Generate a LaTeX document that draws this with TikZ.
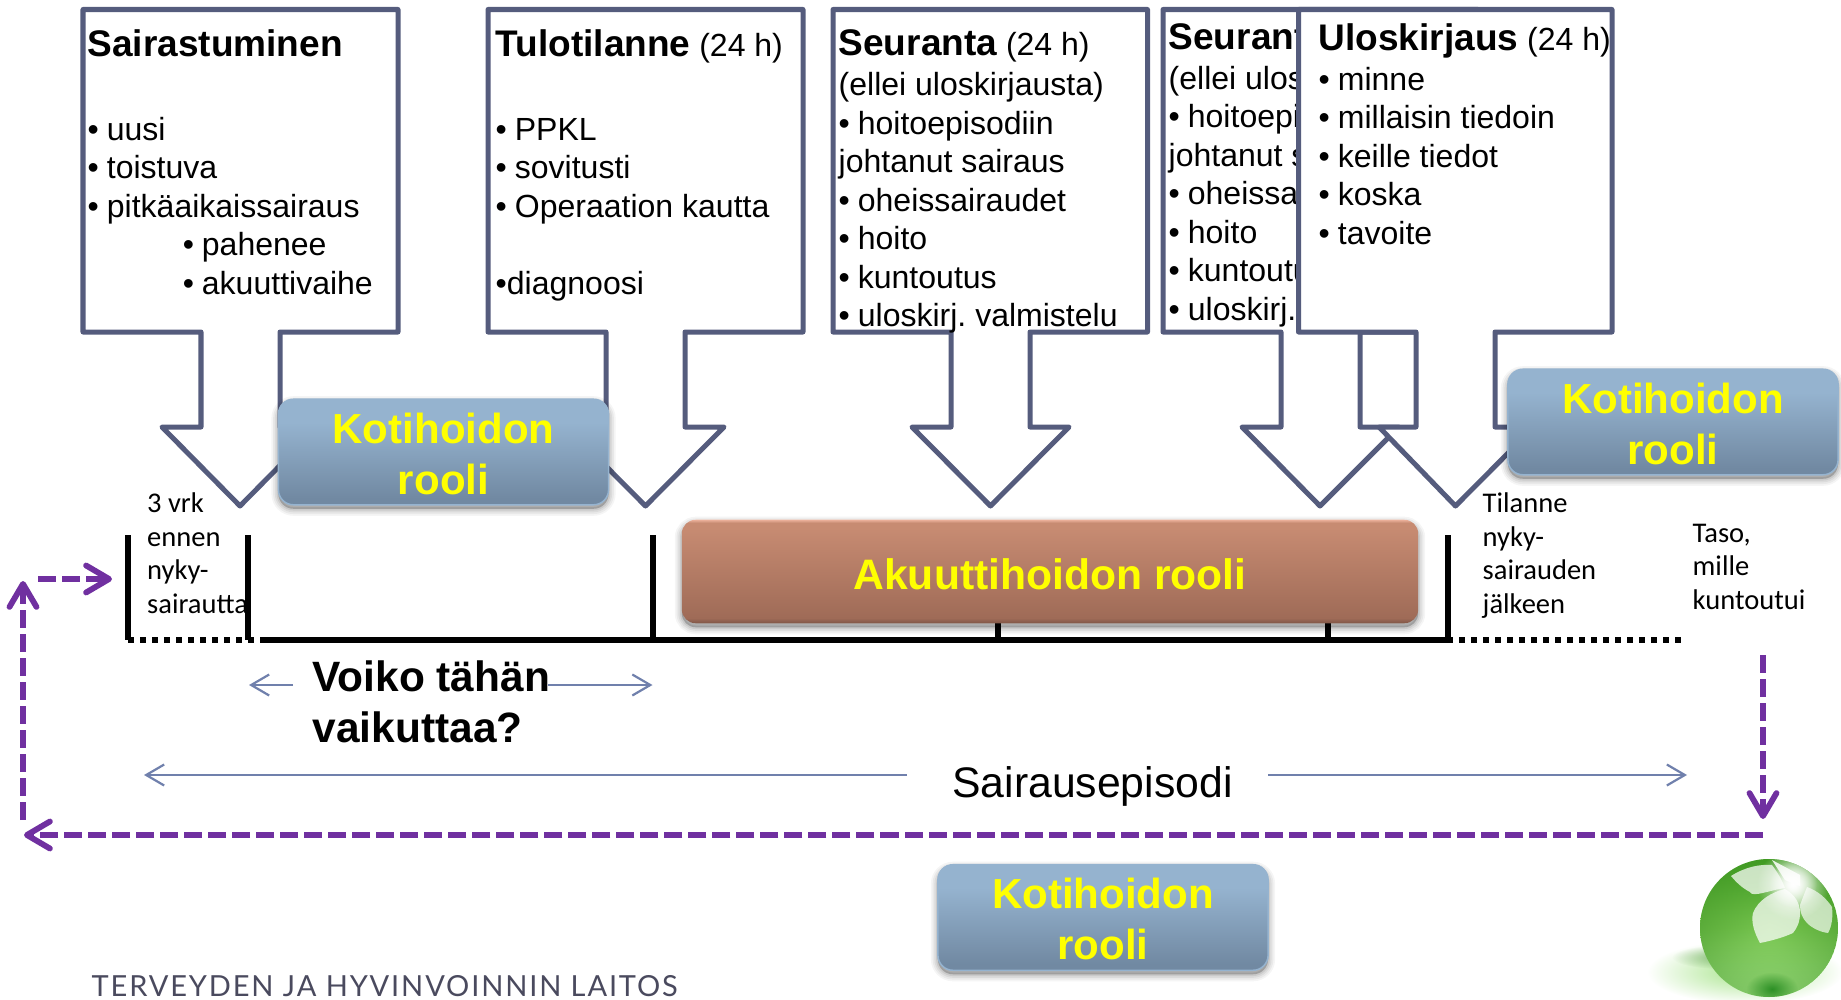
\documentclass[tikz,border=0pt]{standalone}
\usepackage{fontspec}
\setmainfont{Liberation Sans}
\newfontfamily\calib{Carlito}
\newfontfamily\thlfont[LetterSpace=6.4]{Lato}
\usetikzlibrary{arrows.meta,fadings,shadings}
\definecolor{calloutline}{HTML}{555C7D}
\definecolor{purp}{HTML}{7030A0}
\definecolor{thinblue}{HTML}{7080AC}
\definecolor{kyel}{HTML}{FFFF00}
\definecolor{kk1}{HTML}{95B3CF}
\definecolor{kk2}{HTML}{7189A2}
\definecolor{kk3}{HTML}{7189A2}
\definecolor{aa0}{HTML}{EDB29C}
\definecolor{aa1}{HTML}{C78B72}
\definecolor{aa2}{HTML}{9F6B57}
\definecolor{aa3}{HTML}{7F5646}
\definecolor{ftr}{HTML}{4A4A5E}
\definecolor{gTop}{HTML}{4CA82A}
\definecolor{gMid}{HTML}{78C650}
\definecolor{gBot}{HTML}{B4F096}
\definecolor{gRim}{HTML}{2F8418}
\definecolor{gSpot}{HTML}{238A1E}
\definecolor{gShad}{HTML}{A8E48C}
\pgfdeclareverticalshading{kotishade}{100bp}{color(0bp)=(kk3);color(25bp)=(kk3);color(28bp)=(kk2);color(64bp)=(kk1);color(75bp)=(kk1);color(100bp)=(kk1)}
\pgfdeclareverticalshading{akushade}{100bp}{color(0bp)=(aa3);color(25bp)=(aa3);color(27.5bp)=(aa2);color(71bp)=(aa1);color(73.5bp)=(aa1);color(75bp)=(aa0);color(100bp)=(aa0)}
\tikzfading[name=rimfade,inner color=transparent!100,outer color=transparent!62]
\tikzfading[name=glowfade,inner color=transparent!0,outer color=transparent!100]
\newcommand\ttl[1]{{\fontsize{3.7mm}{3.85mm}\selectfont\bfseries #1}}
\newcommand\bl[1]{\makebox[1.92mm][l]{•}#1}
\newcommand\bli[1]{\hspace*{9.5mm}\makebox[1.92mm][l]{•}#1}
\newcommand\kotirole{\rule{0pt}{3.4mm}Kotihoidon\\rooli}
% L R stemL stemR headL headR tipx
\newcommand\callout[7]{\draw[calloutpath] (#1,9.5) -- (#2,9.5) -- (#2,332) -- (#4,332) -- (#4,427) -- (#6,427) -- (#7,506) -- (#5,427) -- (#3,427) -- (#3,332) -- (#1,332) -- cycle;}
\tikzset{
 calloutpath/.style={draw=calloutline,fill=white,line width=.5mm,line join=round},
 bodytext/.style={anchor=north west,inner sep=0pt,align=left,font=\fontsize{3.2mm}{3.85mm}\selectfont},
 softshadow/.style={
  preaction={draw=black,fill=black,line width=1.4mm,opacity=.04,transform canvas={yshift=-.4mm}},
  preaction={draw=black,fill=black,line width=1.05mm,opacity=.05,transform canvas={yshift=-.4mm}},
  preaction={draw=black,fill=black,line width=.7mm,opacity=.06,transform canvas={yshift=-.4mm}},
  preaction={draw=black,fill=black,line width=.35mm,opacity=.08,transform canvas={yshift=-.4mm}}},
 rolebox/.style={softshadow,rounded corners=1.5mm,shading=kotishade,draw=kk1,line width=.15mm,
  inner sep=0pt,minimum width=33.0mm,minimum height=10.55mm,text=kyel,align=center,
  font=\fontsize{4.2mm}{5.1mm}\selectfont\bfseries},
 acutebox/.style={softshadow,rounded corners=1.4mm,shading=akushade,inner sep=0pt,
  minimum width=73.6mm,minimum height=10.35mm,text=kyel,font=\fontsize{4.26mm}{5.0mm}\selectfont\bfseries},
 smalllabel/.style={anchor=north west,inner sep=0pt,align=left,font=\calib\fontsize{2.85mm}{3.35mm}\selectfont},
 ticks/.style={line width=.55mm,black},
 axisline/.style={line width=.6mm,black},
 dots/.style={line width=.6mm,black,dash pattern=on .6mm off .6mm},
 spanarrow/.style={draw=thinblue,line width=.22mm,-{Straight Barb[length=1.8mm,width=2.1mm]}},
 backflow/.style={draw=purp,line width=.58mm,dash pattern=on 1.8mm off .6mm,-{Straight Barb[length=2.3mm,width=2.7mm,round]}}
}
\begin{document}
\begin{tikzpicture}[x=.01cm,y=-.01cm]
\useasboundingbox (0,0) rectangle (1841,1000);
% callouts 1, 2
\callout{83}{398}{201}{280}{162}{318}{240}
\callout{488}{803}{606}{685}{567}{724}{645.5}
\node[bodytext] (txtA) at (87,29) {\ttl{Sairastuminen}\\[4.5mm]
\bl{uusi}\\\bl{toistuva}\\\bl{pitkäaikaissairaus}\\\bli{pahenee}\\\bli{akuuttivaihe}};
\node[bodytext] (txtB) at (495,29) {\ttl{Tulotilanne} (24 h)\\[4.5mm]
\bl{PPKL}\\\bl{sovitusti}\\\bl{Operaation kautta}\\[3.85mm]•diagnoosi};
\node[rolebox] (koti1) at (443.5,452) {\kotirole};
% callouts 3, 4, 5
\callout{833}{1147.5}{951}{1030}{912}{1069}{990.5}
\node[bodytext] (txtC) at (838,29) {\ttl{Seuranta} (24 h)\\[.17mm](ellei uloskirjausta)\\
\bl{hoitoepisodiin}\\johtanut sairaus\\\bl{oheissairaudet}\\\bl{hoito}\\\bl{kuntoutus}\\\bl{uloskirj.\hspace{-.3mm} valmistelu}};
\callout{1163}{1478}{1281}{1360}{1242}{1399}{1320}
\node[bodytext] (txtD) at (1168,23) {\ttl{Seuranta} (24 h)\\[.12mm](ellei uloskirjausta)\\
\bl{hoitoepisodiin}\\johtanut sairaus\\\bl{oheissairaudet}\\\bl{hoito}\\\bl{kuntoutus}\\\bl{uloskirj.\hspace{-.3mm} valmistelu}};
\callout{1298.5}{1612}{1416}{1495}{1379}{1534}{1455.5}
\node[bodytext] (txtE) at (1318,23) {\ttl{Uloskirjaus} (24 h)\\[.12mm]
\bl{minne}\\\bl{millaisin tiedoin}\\\bl{keille tiedot}\\\bl{koska}\\\bl{tavoite}};
\node[rolebox] (koti2) at (1673,422) {\kotirole};
% timeline
\coordinate (t1a) at (128,535); \coordinate (t1b) at (128,640);
\coordinate (t2a) at (248,535); \coordinate (t2b) at (248,640);
\coordinate (t3a) at (653,535); \coordinate (t3b) at (653,640);
\coordinate (t4a) at (998,620); \coordinate (t4b) at (998,640);
\coordinate (t5a) at (1328,620); \coordinate (t5b) at (1328,640);
\coordinate (t6a) at (1448,535); \coordinate (t6b) at (1448,640);
\coordinate (axL) at (260,640); \coordinate (axR) at (1453,640);
\coordinate (dotLa) at (128,640); \coordinate (dotLb) at (254,640);
\coordinate (dotRa) at (1459,640); \coordinate (dotRb) at (1683,640);
\draw[ticks] (t1a)--(t1b); \draw[ticks] (t2a)--(t2b); \draw[ticks] (t3a)--(t3b);
\draw[ticks] (t4a)--(t4b); \draw[ticks] (t5a)--(t5b); \draw[ticks] (t6a)--(t6b);
\draw[axisline] (axL)--(axR);
\draw[dots] (dotLa)--(dotLb);
\draw[dots] (dotRa)--(dotRb);
\node[acutebox] (aku) at (1050,571.5) {\rule{0pt}{3.6mm}Akuuttihoidon rooli};
% small labels
\node[smalllabel] (lab1) at (146.5,492) {3 vrk\\ennen\\nyky-\\sairautta};
\node[smalllabel] (lab2) at (1482,492) {Tilanne\\nyky-\\sairauden\\jälkeen};
\node[smalllabel] (lab3) at (1692,523) {Taso,\\mille\\kuntoutui};
% question
\node[anchor=north west,inner sep=0pt,align=left,font=\fontsize{4.24mm}{5.1mm}\selectfont\bfseries] (voiko) at (312,660) {Voiko tähän\\vaikuttaa?};
\coordinate (va) at (293,685); \coordinate (vb) at (249,685);
\coordinate (vc) at (548,685); \coordinate (vd) at (652.5,685);
\draw[spanarrow] (va)--(vb);
\draw[spanarrow] (vc)--(vd);
% episode
\node[inner sep=0pt,font=\fontsize{4.27mm}{5mm}\selectfont] (epi) at (1092.5,786.5) {Sairausepisodi};
\coordinate (ea) at (907,775); \coordinate (eb) at (144,775);
\coordinate (ec) at (1268,775); \coordinate (ed) at (1687,775);
\draw[spanarrow] (ea)--(eb);
\draw[spanarrow] (ec)--(ed);
% return loop
\coordinate (pa) at (1763,655); \coordinate (pb) at (1763,819);
\coordinate (pc) at (1763,835); \coordinate (pd) at (24,835);
\coordinate (pe) at (23,820); \coordinate (pf) at (23,581);
\coordinate (pg) at (38,579); \coordinate (ph) at (112,579);
\draw[backflow] (pa)--(pb);
\draw[backflow] (pc)--(pd);
\draw[backflow] (pe)--(pf);
\draw[backflow] (pg)--(ph);
\node[rolebox] (koti3) at (1103,917.5) {\kotirole};
% footer
\node[anchor=base west,inner sep=0pt,text=ftr,font=\thlfont\fontsize{2.9mm}{3mm}\selectfont] (thl) at (91,996) {TERVEYDEN JA HYVINVOINNIN LAITOS};
% logo
\begin{scope}
\shade[inner color=gShad,outer color=white] (1745,972) ellipse (98 and 32);
\fill[gRim,opacity=.5,path fading=glowfade] (1722,957) ellipse (50 and 12);
\begin{scope}
\clip (1769,928) circle (69);
\shade[top color=gTop,bottom color=gBot,middle color=gMid] (1700,859) rectangle (1838,997);
\fill[gRim,path fading=rimfade] (1769,928) circle (69);
\fill[gSpot,opacity=.9,path fading=glowfade] (1772,989) ellipse (26 and 17);
\fill[white,opacity=.72] (1731,876) .. controls (1745,867) and (1760,864) .. (1772,865) .. controls (1778,873) and (1782,880) .. (1785,888) .. controls (1770,890) and (1752,898) .. (1750,892) .. controls (1742,888) and (1736,882) .. (1731,876) -- cycle;
\fill[white,opacity=.72] (1760,943) .. controls (1754,932) and (1751,922) .. (1753,913) .. controls (1758,900) and (1772,892) .. (1785,889) .. controls (1795,895) and (1800,903) .. (1800,913) .. controls (1800,922) and (1797,928) .. (1793,933) .. controls (1782,938) and (1770,941) .. (1760,943) -- cycle;
\fill[white,opacity=.66] (1807,887) .. controls (1818,891) and (1826,898) .. (1832,907) .. controls (1833,917) and (1832,926) .. (1828,933) .. controls (1820,932) and (1812,928) .. (1807,923) .. controls (1802,918) and (1800,912) .. (1800,905) -- cycle;
\fill[white,opacity=.85] (1772,860) -- (1800,875) -- (1800,886) -- (1785,880) -- cycle;
\fill[white,path fading=glowfade] (1793,884) circle (36);
\fill[white,path fading=glowfade] (1793,884) circle (24);
\end{scope}
\end{scope}
\end{tikzpicture}
\end{document}
